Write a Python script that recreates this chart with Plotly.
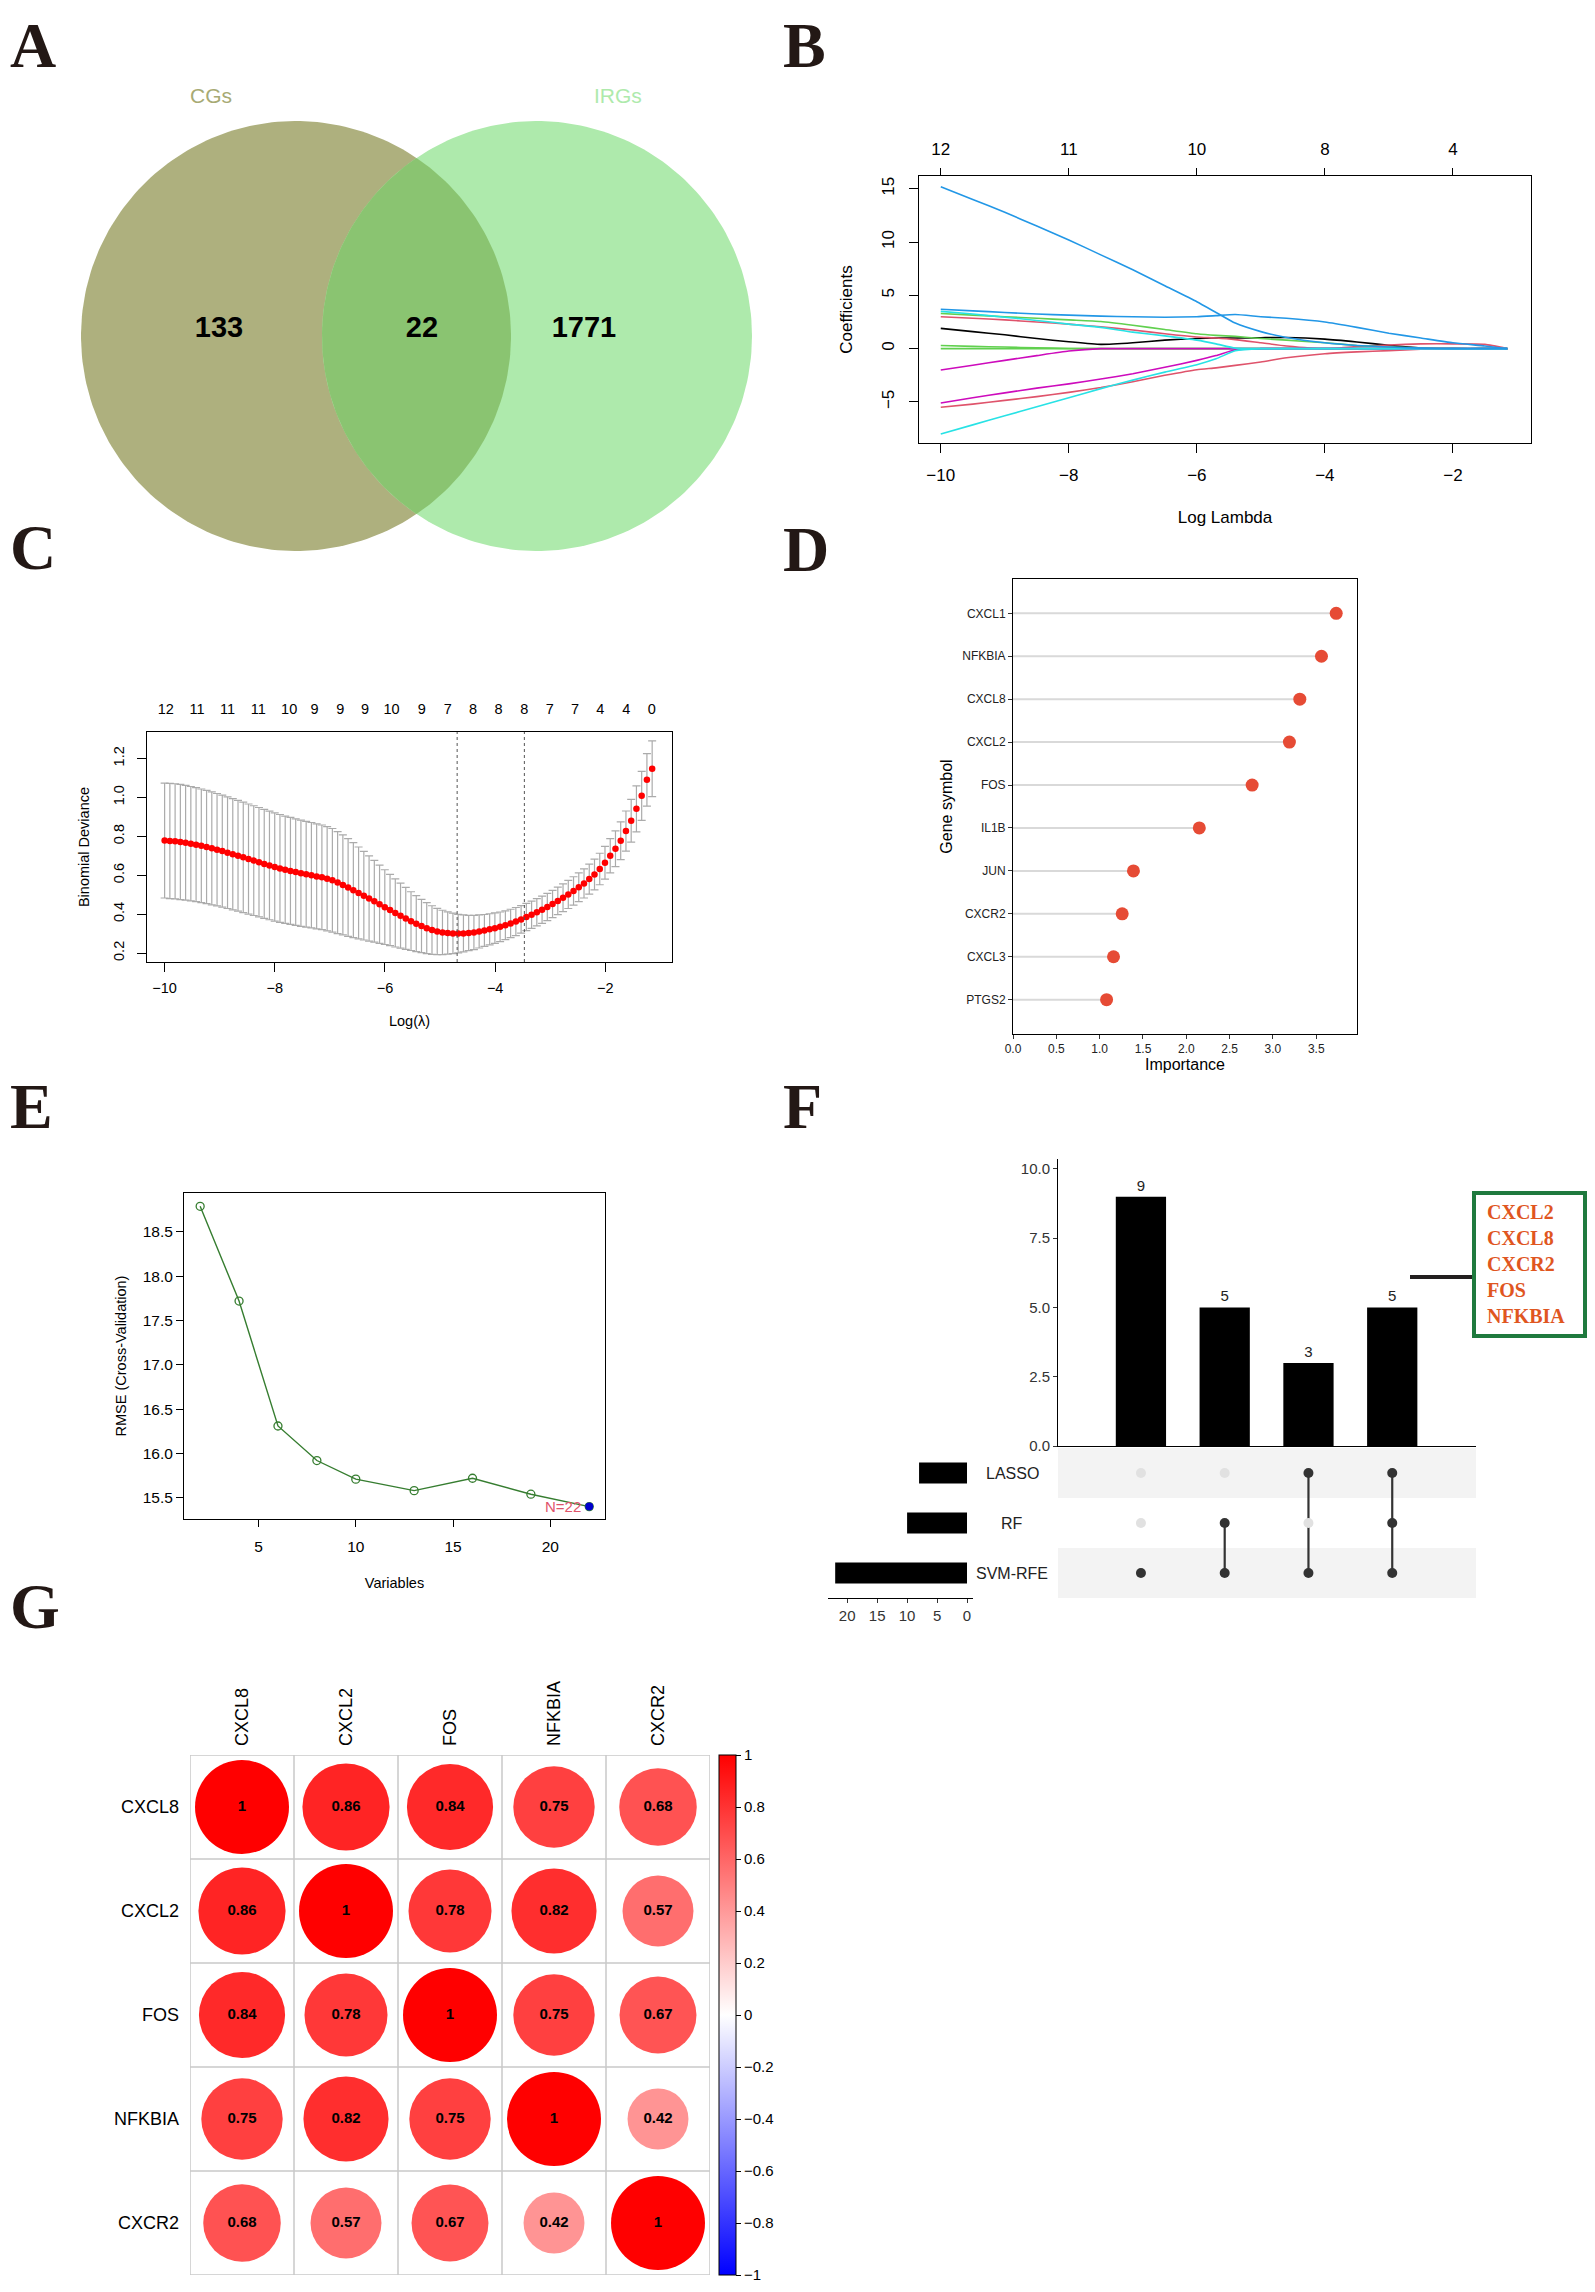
import numpy as np
import plotly.graph_objects as go

W, H = 1595, 2292
OFF = 8  # the page body adds an 8px margin; positions below are page pixels
def dx(a, b): return [(a - OFF) / W, (b - OFF) / W]
def dy(t, b): return [1 - (b - OFF) / H, 1 - (t - OFF) / H]
def px(a): return (a - OFF) / W
def py(b): return 1 - (b - OFF) / H

SANS = "Arial, Liberation Sans, Helvetica, sans-serif"
SERIF = "Times New Roman, Liberation Serif, serif"

# ---------------- A: Venn ----------------
venn_sets = ["CGs", "IRGs"]
venn_counts = [133, 22, 1771]          # CGs only, shared, IRGs only
venn_fill = ["#AEB07E", "#AEEAAC", "#8AC471"]
venn_label_col = ["#A7AA74", "#AEEAAC"]

# ---------------- B: LASSO coefficient paths ----------------
lasso_loglam = [-10, -9.5, -9, -8.5, -8, -7.5, -7, -6.5, -6, -5.7, -5.4, -5.0, -4.6, -4.0,
                -3.5, -3.0, -2.5, -2.0, -1.5, -1.15]
coef_blue_a = [15.2, 14.0, 12.8, 11.5, 10.2, 8.8, 7.4, 5.9, 4.4, 3.4, 2.4, 1.6, 1.05, 0.55, 0.3, 0.15, 0.05, 0, 0, 0]
coef_blue_b = [3.7, 3.55, 3.4, 3.25, 3.15, 3.05, 3.0, 2.95, 3.0, 3.1, 3.2, 3.0, 2.85, 2.5, 2.0, 1.45, 1.0, 0.55, 0.25, 0]
coef_cyan_a = [3.5, 3.25, 2.95, 2.65, 2.3, 2.0, 1.55, 1.2, 0.8, 0.45, 0.05, 0, 0, 0, 0, 0, 0, 0, 0, 0]
coef_cyan_b = [-8.0, -7.15, -6.3, -5.45, -4.6, -3.75, -2.95, -2.2, -1.5, -0.95, -0.2, 0, 0, 0, 0, 0, 0, 0, 0, 0]
coef_mag_a = [-2.0, -1.55, -1.1, -0.65, -0.22, 0, 0, 0, 0, 0, 0, 0, 0, 0, 0, 0, 0, 0, 0, 0]
coef_mag_b = [-5.1, -4.6, -4.15, -3.7, -3.3, -2.85, -2.35, -1.75, -1.1, -0.65, -0.1, 0, 0, 0, 0, 0, 0, 0, 0, 0]
coef_pink_a = [3.0, 2.85, 2.7, 2.5, 2.3, 2.05, 1.75, 1.4, 1.1, 1.0, 0.85, 0.55, 0.25, 0.0, 0.2, 0.35, 0.45, 0.45, 0.4, 0]
coef_pink_b = [-5.5, -5.2, -4.85, -4.5, -4.1, -3.65, -3.1, -2.5, -1.97, -1.8, -1.57, -1.25, -0.85, -0.47, -0.3, -0.18, -0.05, 0, 0, 0]
coef_green_a = [3.3, 3.15, 3.0, 2.85, 2.7, 2.55, 2.2, 1.8, 1.4, 1.25, 1.15, 0.95, 0.8, 0.55, 0.3, 0.15, 0.05, 0, 0, 0]
coef_green_b = [0.3, 0.22, 0.15, 0.08, 0.02, 0, 0, 0, 0, 0, 0, 0, 0, 0, 0, 0, 0, 0, 0, 0]
coef_green_c = [0] * 20
coef_black = [1.9, 1.6, 1.3, 0.95, 0.65, 0.4, 0.55, 0.8, 0.95, 1.0, 1.0, 1.03, 1.05, 0.9, 0.63, 0.31, 0.06, 0, 0, 0]
lasso_paths = [
    (coef_green_c, "#61D04F"), (coef_green_b, "#61D04F"), (coef_black, "#000000"),
    (coef_pink_a, "#DF536B"), (coef_pink_b, "#DF536B"), (coef_green_a, "#61D04F"),
    (coef_mag_a, "#CD0BBC"), (coef_mag_b, "#CD0BBC"), (coef_cyan_a, "#28E2E5"),
    (coef_cyan_b, "#28E2E5"), (coef_blue_b, "#2297E6"), (coef_blue_a, "#2297E6"),
]
lasso_top_pos = [-10, -8, -6, -4, -2]
lasso_top_lab = ["12", "11", "10", "8", "4"]

# ---------------- C: cross-validation deviance ----------------
cv_start, cv_step = -10.0, 0.09516
cv_mean = [0.778, 0.776, 0.774, 0.771, 0.767, 0.762, 0.757, 0.751, 0.745, 0.738,
           0.731, 0.724, 0.716, 0.708, 0.700, 0.692, 0.683, 0.675, 0.667, 0.658,
           0.650, 0.642, 0.635, 0.628, 0.622, 0.616, 0.610, 0.605, 0.600, 0.594,
           0.589, 0.582, 0.574, 0.562, 0.550, 0.537, 0.523, 0.509, 0.495, 0.480,
           0.466, 0.451, 0.436, 0.421, 0.406, 0.392, 0.378, 0.364, 0.351, 0.339,
           0.328, 0.318, 0.311, 0.306, 0.303, 0.301, 0.300, 0.301, 0.303, 0.306,
           0.311, 0.316, 0.322, 0.328, 0.335, 0.343, 0.352, 0.362, 0.373, 0.385,
           0.397, 0.410, 0.423, 0.437, 0.452, 0.468, 0.484, 0.501, 0.519, 0.538,
           0.558, 0.580, 0.604, 0.632, 0.664, 0.700, 0.736, 0.777, 0.827, 0.880,
           0.941, 1.008, 1.090, 1.147]
cv_se = [0.295, 0.296, 0.296, 0.296, 0.295, 0.294, 0.293, 0.292, 0.291, 0.290,
         0.289, 0.288, 0.287, 0.286, 0.285, 0.284, 0.283, 0.282, 0.281, 0.280,
         0.279, 0.278, 0.277, 0.276, 0.275, 0.274, 0.273, 0.272, 0.271, 0.270,
         0.269, 0.268, 0.266, 0.262, 0.257, 0.251, 0.244, 0.236, 0.228, 0.219,
         0.210, 0.201, 0.192, 0.183, 0.175, 0.167, 0.159, 0.151, 0.144, 0.137,
         0.131, 0.125, 0.119, 0.114, 0.109, 0.104, 0.099, 0.095, 0.091, 0.088,
         0.085, 0.082, 0.080, 0.078, 0.076, 0.074, 0.073, 0.072, 0.071, 0.070,
         0.070, 0.070, 0.070, 0.070, 0.070, 0.071, 0.071, 0.072, 0.073, 0.074,
         0.075, 0.077, 0.079, 0.081, 0.084, 0.088, 0.092, 0.097, 0.103, 0.110,
         0.118, 0.126, 0.135, 0.143]
cv_loglam = [cv_start + cv_step * i for i in range(len(cv_mean))]
cv_top_pos = [-9.98, -9.41, -8.86, -8.30, -7.74, -7.28, -6.81, -6.36, -5.88, -5.33,
              -4.86, -4.40, -3.94, -3.47, -3.01, -2.55, -2.09, -1.62, -1.155]
cv_top_lab = ["12", "11", "11", "11", "10", "9", "9", "9", "10", "9", "7", "8", "8", "8",
              "7", "7", "4", "4", "0"]
cv_lambda_min, cv_lambda_1se = -4.69, -3.47

# ---------------- D: RF importance ----------------
rf_genes = ["CXCL1", "NFKBIA", "CXCL8", "CXCL2", "FOS", "IL1B", "JUN", "CXCR2", "CXCL3", "PTGS2"]
rf_importance = [3.73, 3.56, 3.31, 3.19, 2.76, 2.15, 1.39, 1.26, 1.16, 1.08]

# ---------------- E: SVM-RFE ----------------
svm_vars = [2, 4, 6, 8, 10, 13, 16, 19, 22]
svm_rmse = [18.79, 17.72, 16.31, 15.92, 15.71, 15.58, 15.72, 15.54, 15.40]

# ---------------- F: UpSet ----------------
up_sets = ["LASSO", "RF", "SVM-RFE"]
up_set_sizes = [8, 10, 22]
up_inter_sizes = [9, 5, 3, 5]
up_inter_members = [["SVM-RFE"], ["RF", "SVM-RFE"], ["LASSO", "SVM-RFE"], ["LASSO", "RF", "SVM-RFE"]]
up_common_genes = ["CXCL2", "CXCL8", "CXCR2", "FOS", "NFKBIA"]

# ---------------- G: correlation ----------------
corr_genes = ["CXCL8", "CXCL2", "FOS", "NFKBIA", "CXCR2"]
corr_vals = [[1.00, 0.86, 0.84, 0.75, 0.68],
             [0.86, 1.00, 0.78, 0.82, 0.57],
             [0.84, 0.78, 1.00, 0.75, 0.67],
             [0.75, 0.82, 0.75, 1.00, 0.42],
             [0.68, 0.57, 0.67, 0.42, 1.00]]

fig = go.Figure()
shapes, annots = [], []

def rfont(size, color="black", family=SANS):
    return dict(family=family, size=size, color=color)

# ===== A =====
vc = [(296, 336), (537, 336)]
vr = 215
t = np.linspace(0, 2 * np.pi, 240)
for (cx, cy), col in zip(vc, venn_fill[:2]):
    fig.add_trace(go.Scatter(x=cx + vr * np.cos(t), y=cy + vr * np.sin(t), fill="toself",
                             fillcolor=col, line=dict(width=0), mode="lines",
                             xaxis="x", yaxis="y", hoverinfo="skip"))
d = vc[1][0] - vc[0][0]
ang = np.arccos((d / 2) / vr)
a1 = np.linspace(-ang, ang, 80)
a2 = np.linspace(np.pi - ang, np.pi + ang, 80)
lx = np.concatenate([vc[0][0] + vr * np.cos(a1), vc[1][0] + vr * np.cos(a2)])
ly = np.concatenate([vc[0][1] + vr * np.sin(a1), vc[1][1] + vr * np.sin(a2)])
fig.add_trace(go.Scatter(x=lx, y=ly, fill="toself", fillcolor=venn_fill[2], line=dict(width=0),
                         mode="lines", xaxis="x", yaxis="y", hoverinfo="skip"))
fig.add_trace(go.Scatter(x=[219, 422, 584], y=[330, 330, 330], mode="text",
                         text=[f"<b>{c}</b>" for c in venn_counts],
                         textfont=rfont(29), xaxis="x", yaxis="y", hoverinfo="skip"))
for name, xx, col in zip(venn_sets, [211, 618], venn_label_col):
    annots.append(dict(x=xx, y=95, xref="x", yref="y", text=name, showarrow=False,
                       font=rfont(21, col)))

# ===== B =====
for vals, col in lasso_paths:
    fig.add_trace(go.Scatter(x=lasso_loglam, y=vals, mode="lines",
                             line=dict(color=col, width=1.6, shape="spline", smoothing=0.5),
                             xaxis="x2", yaxis="y2", hoverinfo="skip"))
fig.add_trace(go.Scatter(x=lasso_top_pos, y=[0] * len(lasso_top_pos), mode="markers",
                         marker=dict(opacity=0), xaxis="x3", yaxis="y2", hoverinfo="skip"))

# ===== C =====
fig.add_trace(go.Scatter(x=cv_loglam, y=cv_mean, mode="markers",
                         marker=dict(color="red", size=6.5),
                         error_y=dict(type="data", array=cv_se, color="#ABABAB", thickness=1.2, width=4),
                         xaxis="x4", yaxis="y4", hoverinfo="skip"))
fig.add_trace(go.Scatter(x=cv_top_pos, y=[0.5] * len(cv_top_pos), mode="markers",
                         marker=dict(opacity=0), xaxis="x5", yaxis="y4", hoverinfo="skip"))
for v in [cv_lambda_min, cv_lambda_1se]:
    shapes.append(dict(type="line", xref="x4", yref="y4 domain", x0=v, x1=v, y0=0, y1=1,
                       line=dict(color="#555555", width=1, dash="dot")))

# ===== D =====
n = len(rf_genes)
rf_y = [n - 1 - i for i in range(n)]
seg_x, seg_y = [], []
for v, yy in zip(rf_importance, rf_y):
    seg_x += [0, v, None]
    seg_y += [yy, yy, None]
fig.add_trace(go.Scatter(x=seg_x, y=seg_y, mode="lines", line=dict(color="#D9D9D9", width=2),
                         xaxis="x6", yaxis="y6", hoverinfo="skip"))
fig.add_trace(go.Scatter(x=rf_importance, y=rf_y, mode="markers",
                         marker=dict(color="#E64B35", size=13),
                         xaxis="x6", yaxis="y6", hoverinfo="skip"))

# ===== E =====
fig.add_trace(go.Scatter(x=svm_vars, y=svm_rmse, mode="lines+markers",
                         line=dict(color="#367D30", width=1.4),
                         marker=dict(symbol="circle-open", size=8, color="#367D30", line=dict(width=1.3)),
                         xaxis="x7", yaxis="y7", hoverinfo="skip"))
best = int(np.argmin(svm_rmse))
fig.add_trace(go.Scatter(x=[svm_vars[best]], y=[svm_rmse[best]], mode="markers",
                         marker=dict(color="#0000CD", size=8),
                         xaxis="x7", yaxis="y7", hoverinfo="skip"))
annots.append(dict(x=svm_vars[best], y=svm_rmse[best], xref="x7", yref="y7",
                   text=f"N={svm_vars[best]}", showarrow=False, xanchor="right", xshift=-6,
                   font=rfont(15, "#DF536B")))

# ===== F =====
ninter = len(up_inter_sizes)
ix = list(range(ninter))
fig.add_trace(go.Bar(x=ix, y=up_inter_sizes, width=0.6, marker=dict(color="black", line=dict(width=0)),
                     text=[str(v) for v in up_inter_sizes], textposition="outside",
                     textfont=rfont(15, "#222222"), cliponaxis=False,
                     xaxis="x8", yaxis="y8", hoverinfo="skip"))
set_idx = {s: len(up_sets) - 1 - i for i, s in enumerate(up_sets)}
for s in up_sets:
    r = set_idx[s]
    if r % 2 == 0:
        shapes.append(dict(type="rect", xref="x9 domain", yref="y9", x0=0, x1=1,
                           y0=r - 0.5, y1=r + 0.5, fillcolor="#F3F3F3", line=dict(width=0),
                           layer="below"))
mx, my, mc = [], [], []
lx_, ly_ = [], []
for j, members in enumerate(up_inter_members):
    rows = [set_idx[m] for m in members]
    for s in up_sets:
        mx.append(j); my.append(set_idx[s])
        mc.append("#333333" if s in members else "#E1E1E1")
    if len(rows) > 1:
        lx_ += [j, j, None]; ly_ += [min(rows), max(rows), None]
fig.add_trace(go.Scatter(x=lx_, y=ly_, mode="lines", line=dict(color="#333333", width=2.2),
                         xaxis="x9", yaxis="y9", hoverinfo="skip"))
fig.add_trace(go.Scatter(x=mx, y=my, mode="markers", marker=dict(color=mc, size=10),
                         xaxis="x9", yaxis="y9", hoverinfo="skip"))
fig.add_trace(go.Bar(x=up_set_sizes, y=[set_idx[s] for s in up_sets], orientation="h", width=0.42,
                     marker=dict(color="black", line=dict(width=0)),
                     xaxis="x10", yaxis="y10", hoverinfo="skip"))
for s in up_sets:
    annots.append(dict(x=px(1012), y=set_idx[s], xref="paper", yref="y10", text=s,
                       showarrow=False, font=rfont(16, "#222222")))
# callout box with shared genes
shapes.append(dict(type="line", xref="paper", yref="paper", x0=px(1410), x1=px(1473),
                   y0=py(1277), y1=py(1277), line=dict(color="#231F20", width=4)))
shapes.append(dict(type="rect", xref="paper", yref="paper", x0=px(1474), x1=px(1585),
                   y0=py(1336), y1=py(1193), line=dict(color="#1F7A3E", width=4),
                   fillcolor="white"))
annots.append(dict(x=px(1485), y=py(1264), xref="paper", yref="paper", xanchor="left",
                   yanchor="middle", align="left", showarrow=False,
                   text="<br>".join(f"<b>{g}</b>" for g in up_common_genes),
                   font=rfont(20, "#E0561F", SERIF)))

# ===== G =====
ng = len(corr_genes)
cx_, cy_, cv_, cs_, ct_ = [], [], [], [], []
for i in range(ng):
    for j in range(ng):
        v = corr_vals[i][j]
        cx_.append(j); cy_.append(i); cv_.append(v)
        cs_.append(94 * np.sqrt(abs(v)))
        ct_.append("<b>1</b>" if v == 1 else f"<b>{v:.2f}</b>")
for k in range(ng + 1):
    shapes.append(dict(type="line", xref="x11", yref="y11", x0=k - 0.5, x1=k - 0.5, y0=-0.5, y1=ng - 0.5,
                       line=dict(color="#C8C8C8", width=1.5), layer="below"))
    shapes.append(dict(type="line", xref="x11", yref="y11", y0=k - 0.5, y1=k - 0.5, x0=-0.5, x1=ng - 0.5,
                       line=dict(color="#C8C8C8", width=1.5), layer="below"))
cb_ticks = [-1, -0.8, -0.6, -0.4, -0.2, 0, 0.2, 0.4, 0.6, 0.8, 1]
fig.add_trace(go.Scatter(
    x=cx_, y=cy_, mode="markers+text", text=ct_, textposition="middle center",
    textfont=rfont(15, "black"),
    marker=dict(size=cs_, color=cv_, cmin=-1, cmax=1,
                colorscale=[[0, "#0000FF"], [0.5, "#FFFFFF"], [1, "#FF0000"]],
                line=dict(width=0), opacity=1, showscale=True,
                colorbar=dict(x=px(719), xanchor="left", y=py(2015), yanchor="middle",
                              len=520 / H, lenmode="fraction", thickness=17, thicknessmode="pixels",
                              xpad=0, ypad=0, outlinewidth=1, outlinecolor="black",
                              tickvals=cb_ticks,
                              ticktext=[("−" if v < 0 else "") + (f"{abs(v):g}") for v in cb_ticks],
                              ticks="outside", ticklen=5, tickcolor="black",
                              tickfont=rfont(15))),
    xaxis="x11", yaxis="y11", hoverinfo="skip"))

# ===== panel letters =====
for letter, xx, yy in [("A", 8, 45), ("B", 781, 45), ("C", 8, 548), ("D", 781, 550),
                       ("E", 8, 1107), ("F", 781, 1107), ("G", 8, 1606)]:
    annots.append(dict(x=px(xx), y=py(yy), xref="paper", yref="paper", xanchor="left",
                       yanchor="middle", text=f"<b>{letter}</b>", showarrow=False,
                       font=rfont(64, "#231815", SERIF)))

# ===== axes =====
def rax(**kw):
    base = dict(showgrid=False, zeroline=False, showline=True, mirror=True, linecolor="black",
                linewidth=1, ticks="outside", tickcolor="black", automargin=False)
    base.update(kw)
    return base

hidden = dict(visible=False, showgrid=False, zeroline=False)
layout = dict(
    width=W, height=H, margin=dict(l=0, r=0, t=0, b=0), showlegend=False,
    paper_bgcolor="white", plot_bgcolor="white", font=dict(family=SANS, color="black"),
    # A
    xaxis=dict(hidden, domain=dx(8, 790), range=[8, 790], anchor="y"),
    yaxis=dict(hidden, domain=dy(8, 570), range=[570, 8], anchor="x"),
    # B
    xaxis2=rax(domain=dx(919, 1531), range=[-10.34, -0.78], anchor="y2",
               tickvals=[-10, -8, -6, -4, -2], ticklen=9, tickfont=rfont(17), ticklabelstandoff=8,
               title=dict(text="Log Lambda", font=rfont(17), standoff=26)),
    yaxis2=rax(domain=dy(176, 443), range=[-8.85, 16.2], anchor="x2",
               tickvals=[-5, 0, 5, 10, 15], tickangle=-90, ticklen=9, tickfont=rfont(17),
               ticklabelstandoff=8,
               title=dict(text="Coefficients", font=rfont(17), standoff=22)),
    xaxis3=dict(overlaying="x2", side="top", anchor="y2", range=[-10.34, -0.78],
                tickvals=lasso_top_pos, ticktext=lasso_top_lab, ticks="outside", ticklen=7,
                tickcolor="black", tickfont=rfont(17), showline=False, showgrid=False,
                zeroline=False, ticklabelstandoff=6, automargin=False),
    # C
    xaxis4=rax(domain=dx(147, 672), range=[-10.32, -0.79], anchor="y4",
               tickvals=[-10, -8, -6, -4, -2], ticklen=9, tickfont=rfont(14.5), ticklabelstandoff=4,
               title=dict(text="Log(λ)", font=rfont(14.5), standoff=20)),
    yaxis4=rax(domain=dy(732, 962), range=[0.154, 1.336], anchor="x4",
               tickvals=[0.2, 0.4, 0.6, 0.8, 1.0, 1.2], ticktext=["0.2", "0.4", "0.6", "0.8", "1.0", "1.2"],
               tickangle=-90, ticklen=9, tickfont=rfont(14.5), ticklabelstandoff=7,
               title=dict(text="Binomial Deviance", font=rfont(14.5), standoff=18)),
    xaxis5=dict(overlaying="x4", side="top", anchor="y4", range=[-10.32, -0.79],
                tickvals=cv_top_pos, ticktext=cv_top_lab, ticks="", tickfont=rfont(14.5),
                showline=False, showgrid=False, zeroline=False, ticklabelstandoff=14,
                automargin=False),
    # D
    xaxis6=rax(domain=dx(1013, 1357), range=[0, 3.97], anchor="y6",
               tickvals=[0, 0.5, 1, 1.5, 2, 2.5, 3, 3.5],
               ticktext=["0.0", "0.5", "1.0", "1.5", "2.0", "2.5", "3.0", "3.5"],
               ticklen=4, tickcolor="#333333", tickfont=rfont(12, "#222222"),
               title=dict(text="Importance", font=rfont(16), standoff=3)),
    yaxis6=rax(domain=dy(579, 1034), range=[-0.8, n - 1 + 0.8], anchor="x6",
               tickvals=rf_y, ticktext=rf_genes, ticklen=4, tickcolor="#333333",
               tickfont=rfont(12, "#222222"),
               title=dict(text="Gene symbol", font=rfont(16), standoff=5)),
    # E
    xaxis7=rax(domain=dx(184, 605), range=[1.17, 22.81], anchor="y7",
               tickvals=[5, 10, 15, 20], ticklen=7, tickfont=rfont(15.5), ticklabelstandoff=6,
               title=dict(text="Variables", font=rfont(14.5), standoff=24)),
    yaxis7=rax(domain=dy(1193, 1519), range=[15.26, 18.94], anchor="x7",
               tickvals=[15.5, 16, 16.5, 17, 17.5, 18, 18.5],
               ticktext=["15.5", "16.0", "16.5", "17.0", "17.5", "18.0", "18.5"],
               ticklen=7, tickfont=rfont(15.5),
               title=dict(text="RMSE (Cross-Validation)", font=rfont(14.5), standoff=12)),
    # F bars
    xaxis8=dict(domain=dx(1058, 1476), range=[-0.99, 4.0], anchor="y8", showticklabels=False,
                ticks="", showgrid=False, zeroline=False, showline=True, linecolor="black",
                linewidth=1.2, automargin=False),
    yaxis8=dict(domain=dy(1159, 1446), range=[0, 10.36], anchor="x8",
                tickvals=[0, 2.5, 5, 7.5, 10], ticktext=["0.0", "2.5", "5.0", "7.5", "10.0"],
                ticks="outside", ticklen=4, tickcolor="#333333", tickfont=rfont(15, "#333333"),
                showgrid=False, zeroline=False, showline=True, linecolor="black", linewidth=1,
                automargin=False),
    xaxis9=dict(hidden, domain=dx(1058, 1476), range=[-0.99, 4.0], anchor="y9"),
    yaxis9=dict(hidden, domain=dy(1448, 1598), range=[-0.5, 2.5], anchor="x9"),
    xaxis10=dict(domain=dx(828, 973), range=[23.2, -1.0], anchor="y10",
                 tickvals=[0, 5, 10, 15, 20], ticks="outside", ticklen=4, tickcolor="#333333",
                 tickfont=rfont(15, "#333333"), showgrid=False, zeroline=False, showline=True,
                 linecolor="black", linewidth=1, automargin=False),
    yaxis10=dict(hidden, domain=dy(1448, 1598), range=[-0.5, 2.5], anchor="x10"),
    # G
    xaxis11=dict(domain=dx(190, 710), range=[-0.5, ng - 0.5], anchor="y11", side="top",
                 tickvals=list(range(ng)), ticktext=corr_genes, tickangle=-90, ticks="",
                 tickfont=rfont(18), ticklabelstandoff=8, showgrid=False, zeroline=False,
                 showline=False, automargin=False),
    yaxis11=dict(domain=dy(1755, 2275), range=[ng - 0.5, -0.5], anchor="x11",
                 tickvals=list(range(ng)), ticktext=corr_genes, ticks="",
                 tickfont=rfont(18), ticklabelstandoff=10, showgrid=False, zeroline=False,
                 showline=False, automargin=False),
    shapes=shapes, annotations=annots,
)
fig.update_layout(**layout)
fig.write_html("out.html")
